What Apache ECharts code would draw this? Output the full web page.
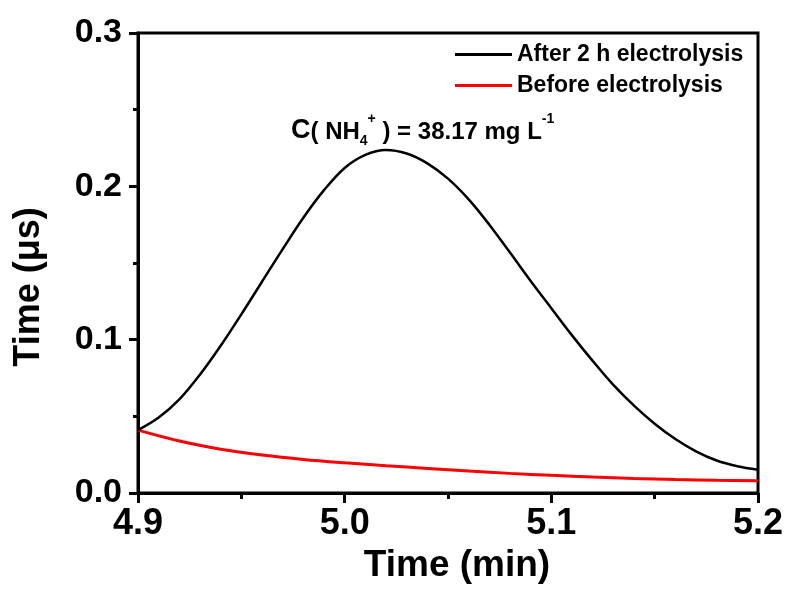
<!DOCTYPE html>
<html>
<head>
<meta charset="utf-8">
<script src="https://cdn.jsdelivr.net/npm/echarts@6/dist/echarts.min.js"></script>
<style>
  html, body { margin: 0; padding: 0; background: #fff; }
  #chart { width: 792px; height: 592px; }
</style>
</head>
<body>
<div id="chart"></div>
<script>
// 数据
const afterTime = [4.90, 4.91, 4.92, 4.93, 4.94, 4.95, 4.96, 4.97, 4.98, 4.99, 5.00,
  5.01, 5.02, 5.03, 5.04, 5.05, 5.06, 5.07, 5.08, 5.09, 5.10,
  5.11, 5.12, 5.13, 5.14, 5.15, 5.16, 5.17, 5.18, 5.19, 5.20]
const afterValues = [0.041, 0.0492, 0.0610, 0.0772, 0.0960, 0.1165, 0.1378, 0.1590, 0.1795, 0.1975, 0.2120,
  0.2205, 0.2237, 0.2214, 0.2150, 0.2050, 0.1915, 0.1750, 0.1568, 0.1383, 0.1205,
  0.1028, 0.0862, 0.0705, 0.0570, 0.0452, 0.0352, 0.0272, 0.0212, 0.0175, 0.0152]

const beforeTime = [4.90, 4.92, 4.94, 4.96, 4.98, 5.00, 5.02, 5.04, 5.06, 5.08, 5.10,
  5.12, 5.14, 5.16, 5.18, 5.20]
const beforeValues = [0.041, 0.0339, 0.0286, 0.0248, 0.0219, 0.0197, 0.0178, 0.0160, 0.0143, 0.0128, 0.0115,
  0.0104, 0.0095, 0.0088, 0.0083, 0.0080]

const seriesNames = ['After 2 h electrolysis', 'Before electrolysis']
const xTicks = [4.9, 5.0, 5.1, 5.2]
const yTicks = [0.0, 0.1, 0.2, 0.3]

const font = 'Liberation Sans, Arial, sans-serif'

const chart = echarts.init(document.getElementById('chart'))

function makeTick (len) {
  return {show: true, inside: false, length: len, lineStyle: {color: '#000', width: 3}}
}
function makeMinorTick (len) {
  return {show: true, splitNumber: 2, length: len, lineStyle: {color: '#000', width: 3}}
}

const option = {
  animation: false,
  backgroundColor: '#fff',
  grid: {
    left: 138,
    right: 34,
    top: 33,
    bottom: 99,
    show: true,
    borderColor: '#000',
    borderWidth: 3
  },
  legend: {
    orient: 'vertical',
    left: 450,
    top: 38,
    itemWidth: 57,
    itemHeight: 3,
    itemGap: 8,
    icon: 'rect',
    textStyle: {fontFamily: font, fontWeight: 'bold', fontSize: 23, color: '#000', lineHeight: 23},
    data: seriesNames
  },
  xAxis: {
    type: 'value',
    min: xTicks[0],
    max: xTicks[xTicks.length - 1],
    interval: 0.1,
    name: 'Time (min)',
    nameLocation: 'middle',
    nameGap: 54,
    nameTextStyle: {fontFamily: font, fontWeight: 'bold', fontSize: 37, color: '#000', padding: [0, 0, 0, 18]},
    axisLine: {show: true, onZero: false, lineStyle: {color: '#000', width: 3}},
    axisTick: makeTick(10),
    minorTick: makeMinorTick(6),
    splitLine: {show: false},
    axisLabel: {
      margin: 13,
      fontFamily: font,
      fontWeight: 'bold',
      fontSize: 36,
      color: '#000',
      formatter: v => v.toFixed(1)
    }
  },
  yAxis: {
    type: 'value',
    min: yTicks[0],
    max: yTicks[yTicks.length - 1],
    interval: 0.1,
    axisLine: {show: true, onZero: false, lineStyle: {color: '#000', width: 3}},
    axisTick: makeTick(9),
    minorTick: makeMinorTick(5),
    splitLine: {show: false},
    axisLabel: {
      margin: 16,
      fontFamily: font,
      fontWeight: 'bold',
      fontSize: 34,
      color: '#000',
      formatter: v => v.toFixed(1)
    }
  },
  graphic: [
    {
      // y 轴标题
      type: 'text',
      x: 29,
      y: 287,
      rotation: Math.PI / 2,
      style: {
        text: 'Time (μs)',
        fontFamily: font,
        fontWeight: 'bold',
        fontSize: 36,
        fill: '#000',
        align: 'center',
        verticalAlign: 'middle'
      }
    },
    {
      type: 'text',
      left: 291,
      top: 112,
      style: {
        text: '{c|C}{n|( NH}{sub|4}{sup|+}{n| ) = 38.17 mg L}{sup|-1}',
        rich: {
          c: {fontFamily: font, fontWeight: 'bold', fontSize: 27, fill: '#000', lineHeight: 32, verticalAlign: 'bottom'},
          n: {fontFamily: font, fontWeight: 'bold', fontSize: 24, fill: '#000', lineHeight: 32, verticalAlign: 'bottom'},
          sub: {fontFamily: font, fontWeight: 'bold', fontSize: 14, fill: '#000', lineHeight: 14, verticalAlign: 'bottom', padding: [0, 0, -4, 0]},
          sup: {fontFamily: font, fontWeight: 'bold', fontSize: 14, fill: '#000', lineHeight: 14, verticalAlign: 'top'}
        }
      }
    }
  ],
  series: [
    {
      name: seriesNames[0],
      type: 'line',
      smooth: 0.35,
      showSymbol: false,
      data: afterTime.map((t, i) => [t, afterValues[i]]),
      itemStyle: {color: '#000'},
      lineStyle: {color: '#000', width: 2.5},
      z: 3
    },
    {
      name: seriesNames[1],
      type: 'line',
      smooth: 0.35,
      showSymbol: false,
      data: beforeTime.map((t, i) => [t, beforeValues[i]]),
      itemStyle: {color: '#ff0000'},
      lineStyle: {color: '#ff0000', width: 3},
      z: 2
    }
  ]
}

chart.setOption(option)
</script>
</body>
</html>
